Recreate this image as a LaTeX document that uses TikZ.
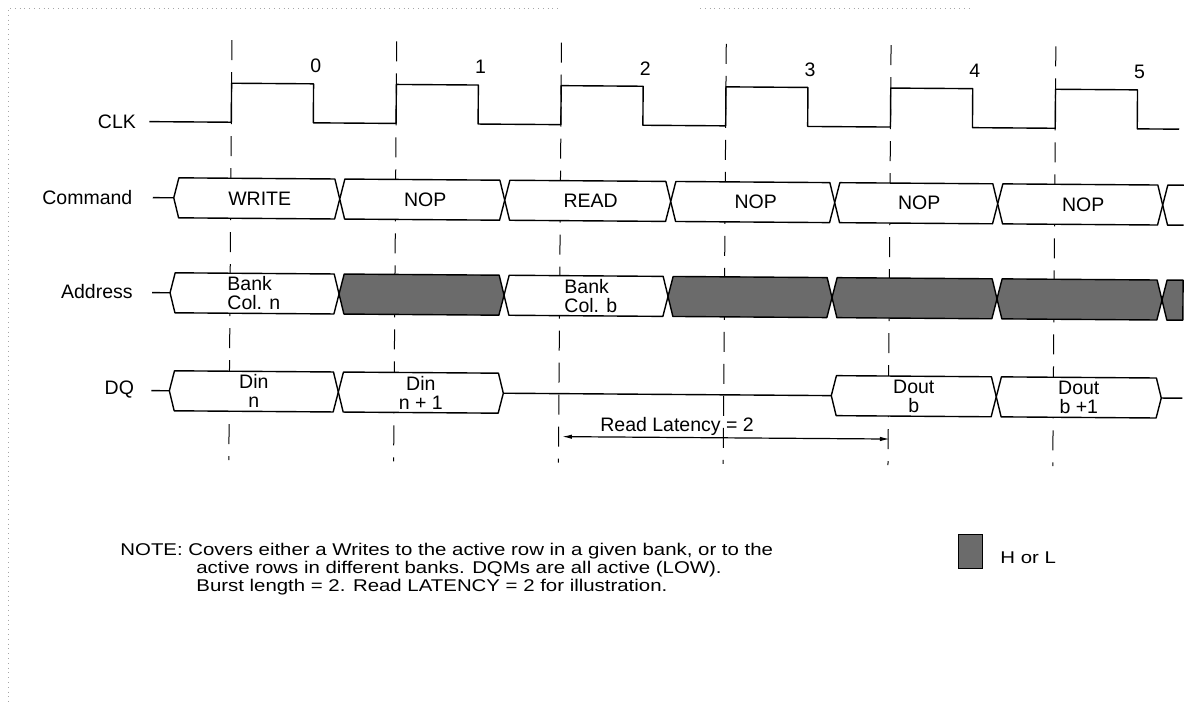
\documentclass[tikz,border=0pt]{standalone}
\usepackage{fontspec}
\setmainfont{Liberation Sans}
\newfontfamily\notefont[FakeStretch=1.2]{Liberation Sans}
\usetikzlibrary{arrows.meta}
\definecolor{hlgray}{gray}{0.42}
\definecolor{scanline}{gray}{0.65}

\begin{document}
\begin{tikzpicture}[x=0.5pt, y=-0.5pt,
    wave/.style={line width=0.7pt, line join=round},
    tick/.style={line width=0.5pt, dash pattern=on 10pt off 6pt},
    sig/.style={font=\fontsize{9.75}{11}\selectfont, anchor=east, inner sep=0pt},
    busval/.style={font=\fontsize{9.75}{9.5}\selectfont, align=center, inner sep=0pt},
    valid/.style={wave, fill=white},
    dontcare/.style={wave, fill=hlgray},
    latarrow/.style={line width=0.6pt, {Latex[length=5pt,width=2.2pt]}-{Latex[length=5pt,width=2.2pt]}},
    note/.style={font=\notefont\fontsize{8.5}{7.5}\selectfont, align=left, inner sep=0pt},
  ]
  \useasboundingbox (0,0) rectangle (1204,704);

  % scan frame
  \draw[scanline, dotted] (10,8) -- (560,8);
  \draw[scanline, dotted] (700,8) -- (970,8);
  \draw[scanline, dotted] (8,10) -- (8,704);

  \begin{scope}[rotate around={-0.42:(200,300)}]
  % clock edges
  \foreach \r in {230,394.8,559.6,724.4,889.2,1054}
    \draw[tick] (\r,40) -- (\r,460);

  % CLK
  \node[sig] (clk) at (135,122) {CLK};
  \draw[wave] (148,122)
    \foreach \r in {230,394.8,559.6,724.4,889.2,1054} {
      -- (\r,122) -- (\r,83) -- (\r+82,83) -- (\r+82,122) }
    -- (1178,122);
  \foreach \r [count=\i from 0] in {230,394.8,559.6,724.4,889.2,1054}
    \node[font=\fontsize{9.75}{11}\selectfont] (n\i) at (\r+84,65) {\i};

  % Command
  \node[sig] (cmd) at (132,198) {Command};
  \draw[wave] (152,198) -- (173,198);
  \foreach \a/\b/\t [count=\i] in {173/339/WRITE, 339/504/NOP, 504/670/READ,
                                 670/834/NOP, 834/997/NOP, 997/1162/NOP} {
    \draw[valid] (\a,198) -- (\a+5,178) -- (\b-5,178) -- (\b,198)
      -- (\b-5,218) -- (\a+5,218) -- cycle;
    \node[busval] (cmd\i) at ({(\a+\b)/2+3},198) {\t};
  }
  \draw[wave] (1183,178) -- (1167,178) -- (1162,198) -- (1167,218) -- (1183,218);

  % Address
  \node[sig] (addr) at (133,292) {Address};
  \draw[wave] (152,293) -- (170,293);
  \draw[valid] (170,293) -- (175,273) -- (334,273) -- (339,293) -- (334,313) -- (175,313) -- cycle;
  \node[busval, align=left, anchor=west] (addr1) at (227,293) {Bank\\Col. n};
  \draw[dontcare] (339,293) -- (344,273) -- (499,273) -- (504,293) -- (499,313) -- (344,313) -- cycle;
  \draw[valid] (504,293) -- (509,273) -- (663,273) -- (668,293) -- (663,313) -- (509,313) -- cycle;
  \node[busval, align=left, anchor=west] (addr3) at (564,293) {Bank\\Col. b};
  \foreach \a/\b in {668/832, 832/997, 997/1162}
    \draw[dontcare] (\a,293) -- (\a+5,273) -- (\b-5,273) -- (\b,293)
      -- (\b-5,313) -- (\a+5,313) -- cycle;
  \draw[dontcare] (1162,293) -- (1167,273) -- (1183,273) -- (1183,313) -- (1167,313) -- cycle;

  % DQ
  \node[sig] (dq) at (135,390) {DQ};
  \draw[wave] (152,391) -- (170,391);
  \foreach \a/\b/\t [count=\i] in {170/339/{Din\\n}, 339/504/{Din\\n + 1},
                                 832/997/{Dout\\b}, 997/1162/{Dout\\b +1}} {
    \draw[valid] (\a,391) -- (\a+5,371) -- (\b-5,371) -- (\b,391)
      -- (\b-5,411) -- (\a+5,411) -- cycle;
    \node[busval] (dq\i) at ({(\a+\b)/2},391) {\t};
  }
  \draw[wave] (504,391) -- (832,391);
  \draw[wave] (1162,391) -- (1183,391);

  % read latency
  \coordinate (lat-l) at (563,434);
  \coordinate (lat-r) at (891,434);
  \draw[latarrow] (lat-l) -- (lat-r);
  \node[font=\fontsize{9.75}{11}\selectfont] (lat) at (678,423) {Read Latency = 2};
  \end{scope}

  % note and legend
  \node[note, anchor=north west] (note) at (120,543)
    {NOTE: Covers either a Writes to the active row in a given bank, or to the\\
     \hspace*{38pt}active rows in different banks. DQMs are all active (LOW).\\
     \hspace*{38pt}Burst length = 2. Read LATENCY = 2 for illustration.};
  \node[draw, line width=0.5pt, fill=hlgray, minimum width=12pt, minimum height=17pt,
        inner sep=0pt] (hl-box) at (970,552) {};
  \node[font=\notefont\fontsize{8.5}{10}\selectfont, anchor=west, inner sep=0pt] (hl) at (1000,558) {H or L};
\end{tikzpicture}
\end{document}
